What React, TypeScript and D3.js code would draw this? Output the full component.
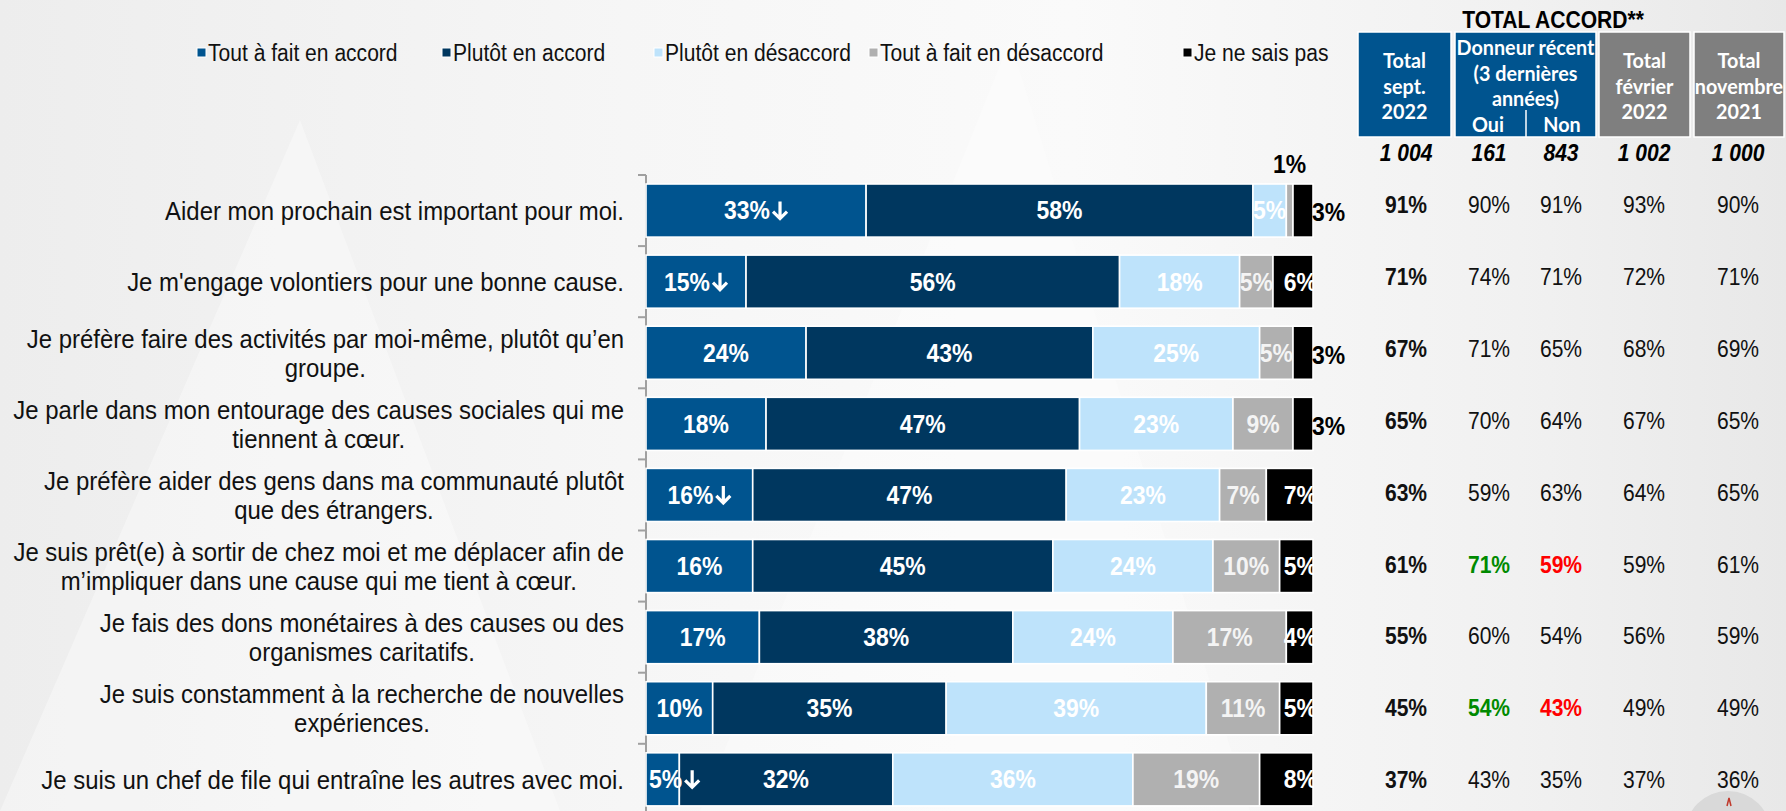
import React, { useEffect, useRef } from "react";
import * as d3 from "d3";

// ---------- DATA ----------
const categories: string[][] = [
  ["Aider mon prochain est important pour moi."],
  ["Je m'engage volontiers pour une bonne cause."],
  ["Je préfère faire des activités par moi-même, plutôt qu’en", "groupe."],
  ["Je parle dans mon entourage des causes sociales qui me", "tiennent à cœur."],
  ["Je préfère aider des gens dans ma communauté plutôt", "que des étrangers."],
  ["Je suis prêt(e) à sortir de chez moi et me déplacer afin de", "m’impliquer dans une cause qui me tient à cœur."],
  ["Je fais des dons monétaires à des causes ou des", "organismes caritatifs."],
  ["Je suis constamment à la recherche de nouvelles", "expériences."],
  ["Je suis un chef de file qui entraîne les autres avec moi."],
];

const seriesNames = [
  "Tout à fait en accord",
  "Plutôt en accord",
  "Plutôt en désaccord",
  "Tout à fait en désaccord",
  "Je ne sais pas",
];
const seriesColors = ["#00548F", "#00375F", "#BEE3FB", "#B0B0B0", "#000000"];
const labelColors = ["#FFFFFF", "#FFFFFF", "#FFFFFF", "#F4F4F4", "#FFFFFF"];

const toutAFaitAccord = [33, 15, 24, 18, 16, 16, 17, 10, 5];
const plutotAccord = [58, 56, 43, 47, 47, 45, 38, 35, 32];
const plutotDesaccord = [5, 18, 25, 23, 23, 24, 24, 39, 36];
const toutAFaitDesaccord = [1, 5, 5, 9, 7, 10, 17, 11, 19];
const neSaisPas = [3, 6, 3, 3, 7, 5, 4, 5, 8];
const significantDown = [true, true, false, false, true, false, false, false, true];

const sampleSizes = ["1 004", "161", "843", "1 002", "1 000"];
const totalSept2022 = [91, 71, 67, 65, 63, 61, 55, 45, 37];
const donneurOui = [90, 74, 71, 70, 59, 71, 60, 54, 43];
const donneurNon = [91, 71, 65, 64, 63, 59, 54, 43, 35];
const totalFevrier2022 = [93, 72, 68, 67, 64, 59, 56, 49, 37];
const totalNovembre2021 = [90, 71, 69, 65, 65, 61, 59, 49, 36];
const ouiHigher = [false, false, false, false, false, true, false, true, false];
const nonLower = [false, false, false, false, false, true, false, true, false];

const headerTitle = "TOTAL ACCORD**";
const headerBoxes = [
  { lines: ["Total", "sept.", "2022"], kind: "blue" },
  { lines: ["Donneur récent", "(3 dernières", "années)"], kind: "blue" },
  { lines: ["Total", "février", "2022"], kind: "gray" },
  { lines: ["Total", "novembre", "2021"], kind: "gray" },
];
const subHeaders = ["Oui", "Non"];

// ---------- LAYOUT ----------
const W = 1786;
const H = 811;
const FONT = "'Liberation Sans', Arial, sans-serif";
const HFONT = "Lato, 'Open Sans', sans-serif";
const SX = 0.9; // horizontal squeeze of the original slide text

type TOpts = {
  size: number;
  anchor?: string;
  weight?: string;
  style?: string;
  fill?: string;
  family?: string;
  sx?: number;
};

function txt(g: any, x: number, y: number, s: string, o: TOpts) {
  const sx = o.sx ?? SX;
  return g
    .append("text")
    .attr("transform", `translate(${x},${y}) scale(${sx},1)`)
    .attr("dy", "0.35em")
    .attr("text-anchor", o.anchor ?? "start")
    .attr("font-family", o.family ?? FONT)
    .attr("font-size", o.size)
    .attr("font-weight", o.weight ?? "normal")
    .attr("font-style", o.style ?? "normal")
    .attr("fill", o.fill ?? "#111")
    .text(s);
}
function widthOf(t: any, sx = SX) {
  return (t.node() as SVGTextElement).getComputedTextLength() * sx;
}

export default function App() {
  const ref = useRef<SVGSVGElement>(null);

  useEffect(() => {
    document.body.style.margin = "0";
    document.body.style.overflow = "hidden";
    const svg = d3.select(ref.current!);
    svg.selectAll("*").remove();

    // background
    const defs = svg.append("defs");
    const bg = defs.append("linearGradient").attr("id", "bg").attr("x1", "0").attr("x2", "1").attr("y1", "0").attr("y2", "0");
    bg.append("stop").attr("offset", "0").attr("stop-color", "#EDEDED");
    bg.append("stop").attr("offset", "0.35").attr("stop-color", "#F6F6F6");
    bg.append("stop").attr("offset", "0.6").attr("stop-color", "#FAFAFA");
    bg.append("stop").attr("offset", "0.85").attr("stop-color", "#F1F1F1");
    bg.append("stop").attr("offset", "1").attr("stop-color", "#E8E8E8");
    svg.append("rect").attr("width", W).attr("height", H).attr("fill", "url(#bg)");
    svg.append("path").attr("d", "M0,811 L300,120 L560,811 Z").attr("fill", "#FFFFFF").attr("opacity", 0.35);
    svg.append("path").attr("d", "M700,811 L1010,40 L1250,811 Z").attr("fill", "#FFFFFF").attr("opacity", 0.3);

    const x = d3.scaleLinear().domain([0, 100]).range([646, 1313]);
    const y = d3
      .scaleBand<number>()
      .domain(d3.range(categories.length))
      .range([175, 175 + categories.length * 71.1])
      .paddingInner(0.253)
      .paddingOuter(0.1265);
    const yTable = d3.scalePoint<number>().domain(d3.range(categories.length)).range([205, 780]);

    const clip = defs.append("clipPath").attr("id", "plotclip").attr("clipPathUnits", "userSpaceOnUse");
    clip.append("rect").attr("x", 0).attr("y", 0).attr("width", x(100)).attr("height", H);

    // legend
    const legendX = [197, 442, 654, 869, 1183];
    const lg = svg.append("g");
    seriesNames.forEach((name, k) => {
      lg.append("rect").attr("x", legendX[k]).attr("y", 48).attr("width", 9).attr("height", 9)
        .attr("fill", seriesColors[k]).attr("stroke", "#fff").attr("stroke-width", 1);
      txt(lg, legendX[k] + 11, 53, name, { size: 23.4 });
    });

    // stacked data
    const keys = ["s0", "s1", "s2", "s3", "s4"];
    const rows = categories.map((_, i) => ({
      i,
      s0: toutAFaitAccord[i],
      s1: plutotAccord[i],
      s2: plutotDesaccord[i],
      s3: toutAFaitDesaccord[i],
      s4: neSaisPas[i],
    }));
    const layers = d3.stack<any>().keys(keys)(rows);

    // axis
    const ax = svg.append("g");
    ax.append("line").attr("x1", x(0)).attr("x2", x(0)).attr("y1", 175).attr("y2", H)
      .attr("stroke", "#A0A0A0").attr("stroke-width", 2);
    d3.range(categories.length + 1).forEach((k) => {
      const yy = 175 + k * y.step();
      ax.append("line").attr("x1", x(0) - 8).attr("x2", x(0)).attr("y1", yy).attr("y2", yy)
        .attr("stroke", "#A0A0A0").attr("stroke-width", 2);
    });

    // bars
    const bars = svg.append("g");
    layers.forEach((layer, k) => {
      bars.selectAll(null).data(layer).enter().append("rect")
        .attr("x", (d: any) => x(d[0]))
        .attr("width", (d: any) => x(d[1]) - x(d[0]))
        .attr("y", (d: any) => y(d.data.i)!)
        .attr("height", y.bandwidth())
        .attr("fill", seriesColors[k])
        .attr("stroke", "#FFFFFF")
        .attr("stroke-width", 1.6);
    });

    // bar labels
    const lbl = svg.append("g");
    const clipped = svg.append("g").attr("clip-path", "url(#plotclip)");
    const LS = 25.5;
    const arrowW = 16;
    layers.forEach((layer, k) => {
      layer.forEach((d: any) => {
        const i = d.data.i;
        const v = d[1] - d[0];
        const cy = y(i)! + y.bandwidth() / 2;
        const cx = (x(d[0]) + x(d[1])) / 2;
        if (k === 3 && v <= 1) {
          txt(lbl, cx, y(i)! - 20, `${v}%`, { size: LS, weight: "bold", anchor: "middle", fill: "#000" });
        } else if (k === 4 && v <= 3) {
          txt(lbl, x(100) - 1, cy + 2, `${v}%`, { size: LS, weight: "bold", anchor: "start", fill: "#000" });
        } else if (k === 4) {
          txt(clipped, x(100) + 4, cy, `${v}%`, { size: LS, weight: "bold", anchor: "end", fill: labelColors[k] });
        } else {
          const withArrow = k === 0 && significantDown[i];
          const t = txt(lbl, 0, cy, `${v}%`, { size: LS, weight: "bold", anchor: "start", fill: labelColors[k] });
          const w = widthOf(t);
          const total = w + (withArrow ? arrowW + 2 : 0);
          let left = cx - total / 2;
          if (k === 0) left = Math.max(left, x(0) + 3);
          t.attr("transform", `translate(${left},${cy}) scale(${SX},1)`);
          if (withArrow) {
            const ax0 = left + w + 2 + arrowW / 2;
            lbl.append("path")
              .attr("d", `M${ax0},${cy - 9} L${ax0},${cy + 8} M${ax0 - 7},${cy + 1} L${ax0},${cy + 8} L${ax0 + 7},${cy + 1}`)
              .attr("stroke", labelColors[k]).attr("stroke-width", 3.2).attr("fill", "none")
              .attr("stroke-linejoin", "miter").attr("stroke-linecap", "butt");
          }
        }
      });
    });

    // category labels
    const cat = svg.append("g");
    const CS = 26.6;
    categories.forEach((lines, i) => {
      const cy = y(i)! + y.bandwidth() / 2;
      const right = 624;
      if (lines.length === 1) {
        txt(cat, right, cy, lines[0], { size: CS, anchor: "end" });
      } else {
        const t1 = txt(cat, right, cy - 14.5, lines[0], { size: CS, anchor: "end" });
        const w1 = widthOf(t1);
        txt(cat, right - w1 / 2, cy + 14.5, lines[1], { size: CS, anchor: "middle" });
      }
    });

    // header
    const hd = svg.append("g");
    txt(hd, 1553, 20, headerTitle, { size: 23.4, weight: "bold", anchor: "middle", fill: "#000" });
    const boxX = [1358, 1455, 1599, 1694];
    const boxW = [93, 141, 91, 90];
    headerBoxes.forEach((b, j) => {
      hd.append("rect").attr("x", boxX[j]).attr("y", 32).attr("width", boxW[j]).attr("height", 105)
        .attr("fill", b.kind === "blue" ? "#00548F" : "#7F7F7F").attr("stroke", "#FFFFFF").attr("stroke-width", 1.5);
      const ys = j === 1 ? [47, 73, 98] : [60, 86, 111];
      b.lines.forEach((ln, li) => {
        txt(hd, boxX[j] + boxW[j] / 2, ys[li], ln, {
          size: 21.5, weight: "bold", anchor: "middle", fill: "#FFFFFF", family: HFONT, sx: 0.92,
        });
      });
    });
    hd.append("line").attr("x1", 1526).attr("x2", 1526).attr("y1", 110).attr("y2", 137).attr("stroke", "#FFFFFF").attr("stroke-width", 1.5);
    const colX = [1406, 1489, 1561, 1644, 1738];
    subHeaders.forEach((s, j) => {
      txt(hd, [1488, 1562][j], 124, s, { size: 21.5, weight: "bold", anchor: "middle", fill: "#FFFFFF", family: HFONT, sx: 0.92 });
    });
    sampleSizes.forEach((s, j) => {
      txt(hd, colX[j], 153, s, { size: 23.4, weight: "bold", style: "italic", anchor: "middle", fill: "#000" });
    });

    // table
    const cols = [totalSept2022, donneurOui, donneurNon, totalFevrier2022, totalNovembre2021];
    const tb = svg.append("g");
    cols.forEach((col, j) => {
      col.forEach((v, i) => {
        let fill = "#111";
        let weight = j === 0 ? "bold" : "normal";
        if (j === 1 && ouiHigher[i]) { fill = "#008A00"; weight = "bold"; }
        if (j === 2 && nonLower[i]) { fill = "#FF0000"; weight = "bold"; }
        txt(tb, colX[j], yTable(i)!, `${v}%`, { size: 23.4, weight, anchor: "middle", fill });
      });
    });

    // page corner decoration
    svg.append("circle").attr("cx", 1728).attr("cy", 834).attr("r", 43).attr("fill", "#D9D9D9");
    svg.append("path").attr("d", "M1727,806 L1729,798 L1731,806").attr("stroke", "#C0392B").attr("stroke-width", 1.5).attr("fill", "none");
  }, []);

  return <svg ref={ref} width={W} height={H} style={{ display: "block" }} />;
}
